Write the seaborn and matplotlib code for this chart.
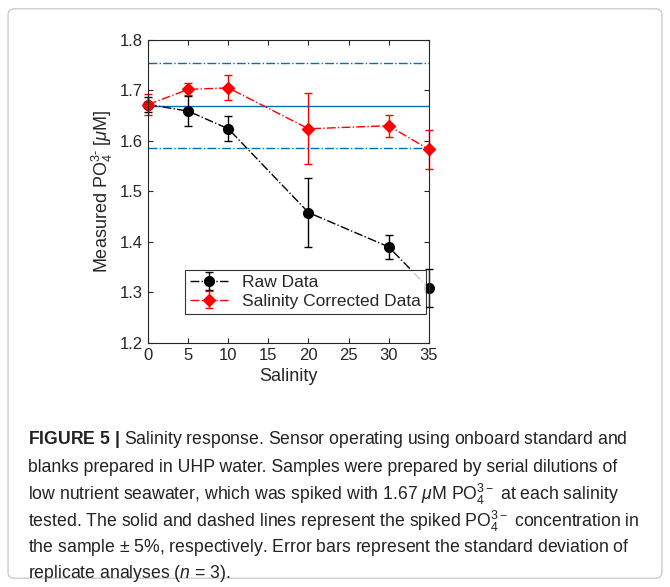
import numpy as np
import pandas as pd
import matplotlib
matplotlib.use("Agg")
import matplotlib.pyplot as plt
import seaborn as sns
from matplotlib.patches import FancyBboxPatch

salinity = [0, 5, 10, 20, 30, 35]
raw = [1.672, 1.659, 1.624, 1.458, 1.390, 1.308]
raw_err = [0.015, 0.030, 0.025, 0.068, 0.023, 0.038]
corr = [1.672, 1.702, 1.705, 1.624, 1.630, 1.583]
corr_err = [0.020, 0.012, 0.025, 0.070, 0.022, 0.038]
spike = 1.67

sns.set_style("ticks")
plt.rcParams["font.family"] = ["Liberation Sans", "DejaVu Sans"]
plt.rcParams["mathtext.fontset"] = "custom"
plt.rcParams["mathtext.rm"] = "Liberation Sans"
plt.rcParams["mathtext.it"] = "Liberation Sans:italic"
plt.rcParams["mathtext.bf"] = "Liberation Sans:bold"

fig = plt.figure(figsize=(6.70, 5.87), dpi=100)
fig.patches.append(FancyBboxPatch((0.012, 0.015), 0.976, 0.97, boxstyle="round,pad=0,rounding_size=0.01",
                                  transform=fig.transFigure, fill=False, ec="#cccccc", lw=1))
ax = fig.add_axes([0.221, 0.416, 0.419, 0.516])

df = pd.DataFrame({"s": salinity, "raw": raw, "corr": corr})
ax.axhline(spike, color="#0072BD", lw=1)
ax.axhline(spike * 1.05, color="#0072BD", lw=1, ls="-.")
ax.axhline(spike * 0.95, color="#0072BD", lw=1, ls="-.")
for y, e, c, m, ms, lab in [(df["raw"], raw_err, "black", "o", 7, "Raw Data"),
                            (df["corr"], corr_err, "red", "D", 6, "Salinity Corrected Data")]:
    eb = ax.errorbar(df["s"], y, yerr=e, color=c, ls="-.", lw=1,
                     marker=m, ms=ms, capsize=3, label=lab)
    for art in eb.get_children():
        art.set_clip_on(False)

ax.set_xlim(0, 35)
ax.set_ylim(1.2, 1.8)
ax.set_xticks([0, 5, 10, 15, 20, 25, 30, 35])
ax.set_yticks(np.arange(1.2, 1.81, 0.1))
ax.yaxis.set_major_formatter(matplotlib.ticker.FormatStrFormatter("%.1f"))
ax.tick_params(direction="in", top=True, right=True, labelsize=12)
for sp in ax.spines.values():
    sp.set_visible(True)
    sp.set_linewidth(0.8)
ax.set_xlabel("Salinity", fontsize=13)
ax.set_ylabel(r"Measured PO$_4^{3\text{-}}$ [$\mu$M]", fontsize=13)
leg = ax.legend(loc="upper left", bbox_to_anchor=(0.1, 0.27), fontsize=12.5,
                frameon=True, fancybox=False, edgecolor="black", borderpad=0.3,
                handlelength=2.2, labelspacing=0.2)
leg.get_frame().set_linewidth(0.8)

lines = [
    r"$\bf{FIGURE\ 5\ |}$ Salinity response. Sensor operating using onboard standard and",
    "blanks prepared in UHP water. Samples were prepared by serial dilutions of",
    r"low nutrient seawater, which was spiked with 1.67 $\mu$M PO$_4^{3-}$ at each salinity",
    r"tested. The solid and dashed lines represent the spiked PO$_4^{3-}$ concentration in",
    r"the sample $\pm$ 5%, respectively. Error bars represent the standard deviation of",
    r"replicate analyses ($\it{n}$ = 3).",
]
ys = [440, 467, 494, 521, 548, 574]
for t, y in zip(lines, ys):
    fig.text(0.042, 1 - y / 587, t, fontsize=12.7, color="#222222", va="center")

fig.savefig("out.png", dpi=100)
